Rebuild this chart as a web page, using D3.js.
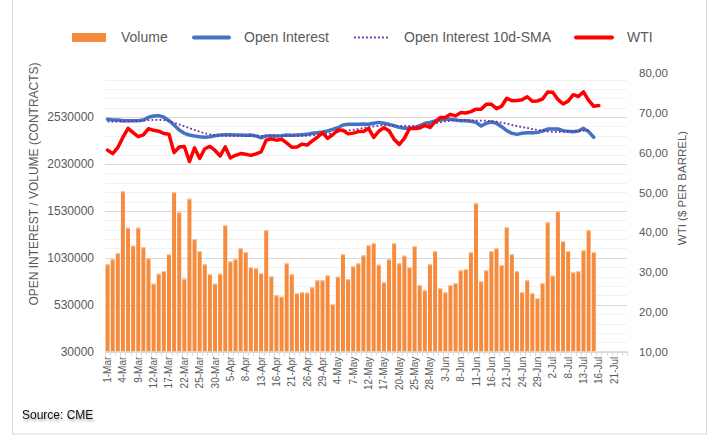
<!DOCTYPE html>
<html>
<head>
<meta charset="utf-8">
<script src="https://cdn.jsdelivr.net/npm/d3@7"></script>
<style>
  body { margin: 0; background: #fff; }
  svg { display: block; font-family: "Liberation Sans", Arial, sans-serif; }
</style>
</head>
<body>
<svg id="chart" width="722" height="448"></svg>
<script>
// trading days, 1-Mar to 23-Jul
var dates = [
  "1-Mar","2-Mar","3-Mar","4-Mar","5-Mar","8-Mar","9-Mar","10-Mar","11-Mar","12-Mar",
  "15-Mar","16-Mar","17-Mar","18-Mar","19-Mar","22-Mar","23-Mar","24-Mar","25-Mar","26-Mar",
  "29-Mar","30-Mar","31-Mar","1-Apr","5-Apr","6-Apr","7-Apr","8-Apr","9-Apr","12-Apr",
  "13-Apr","14-Apr","15-Apr","16-Apr","19-Apr","20-Apr","21-Apr","22-Apr","23-Apr","26-Apr",
  "27-Apr","28-Apr","29-Apr","30-Apr","3-May","4-May","5-May","6-May","7-May","10-May",
  "11-May","12-May","13-May","14-May","17-May","18-May","19-May","20-May","21-May","24-May",
  "25-May","26-May","27-May","28-May","1-Jun","2-Jun","3-Jun","4-Jun","7-Jun","8-Jun",
  "9-Jun","10-Jun","11-Jun","14-Jun","15-Jun","16-Jun","17-Jun","18-Jun","21-Jun","22-Jun",
  "23-Jun","24-Jun","25-Jun","28-Jun","29-Jun","30-Jun","1-Jul","2-Jul","6-Jul","7-Jul",
  "8-Jul","9-Jul","12-Jul","13-Jul","14-Jul","15-Jul","16-Jul","19-Jul","20-Jul","21-Jul",
  "22-Jul","23-Jul"
];

// volume (contracts)
var volume = [
  961000,1015000,1079000,1739000,1351000,1160000,1351000,1142000,1025000,755000,
  861000,890000,1068000,1729000,1515000,808000,1660000,1228000,1100000,961000,
  855000,755000,861000,1377000,993000,1015000,1132000,1092000,929000,919000,
  865000,1324000,833000,631000,616000,972000,855000,652000,663000,659000,
  716000,791000,791000,844000,535000,829000,1068000,802000,940000,972000,
  1057000,1164000,1185000,957000,770000,1015000,1185000,972000,1053000,929000,
  1153000,738000,684000,961000,1100000,706000,663000,738000,759000,897000,
  908000,1089000,1611000,780000,897000,1100000,1132000,951000,1356000,1068000,
  887000,663000,791000,652000,599000,759000,1409000,840000,1526000,1206000,
  1103000,876000,887000,1110000,1324000,1089000
];

// open interest (contracts)
var openInterest = [
  2506000,2499000,2499000,2492000,2492000,2492000,2492000,2499000,2528000,2542000,
  2545000,2528000,2492000,2446000,2392000,2357000,2339000,2329000,2321000,2315000,
  2321000,2332000,2339000,2342000,2342000,2339000,2339000,2336000,2339000,2329000,
  2310000,2329000,2332000,2329000,2332000,2339000,2336000,2339000,2342000,2346000,
  2357000,2364000,2371000,2382000,2400000,2417000,2446000,2453000,2453000,2453000,
  2457000,2453000,2464000,2474000,2464000,2453000,2438000,2421000,2410000,2410000,
  2417000,2438000,2464000,2474000,2488000,2499000,2506000,2506000,2499000,2492000,
  2492000,2485000,2474000,2435000,2464000,2478000,2464000,2428000,2386000,2357000,
  2346000,2357000,2364000,2364000,2367000,2382000,2403000,2403000,2403000,2386000,
  2378000,2375000,2382000,2410000,2375000,2315000
];

// open interest 10d-SMA
var oiSma = [
  2481000,2482000,2483000,2483000,2485000,2487000,2490000,2493000,2497000,2500000,
  2500000,2498000,2485000,2470000,2452000,2432000,2412000,2393000,2375000,2358000,
  2345000,2337000,2332000,2330000,2330000,2330000,2330000,2330000,2330000,2330000,
  2330000,2330000,2330000,2330000,2330000,2330000,2330000,2330000,2330000,2332000,
  2335000,2340000,2346000,2352000,2360000,2370000,2380000,2388000,2395000,2403000,
  2414000,2424000,2431000,2438000,2446000,2442000,2438000,2435000,2435000,2435000,
  2435000,2438000,2449000,2457000,2464000,2474000,2485000,2492000,2496000,2499000,
  2499000,2496000,2492000,2492000,2492000,2488000,2481000,2470000,2460000,2446000,
  2435000,2424000,2414000,2403000,2392000,2385000,2378000,2374000,2374000,2374000,
  2378000,2378000,2382000,2385000,2392000
];

// WTI ($ per barrel)
var wti = [
  60.64,59.75,61.28,63.83,66.09,65.05,64.01,64.44,66.02,65.61,
  65.39,64.80,64.60,60.00,61.42,61.55,57.76,61.18,58.56,60.97,
  61.56,60.55,59.16,61.45,58.65,59.33,59.77,59.60,59.32,59.70,
  60.18,63.15,63.46,63.13,63.38,62.44,61.35,61.43,62.14,61.91,
  62.94,63.86,65.01,63.58,64.49,65.69,65.63,64.71,64.90,65.28,
  65.28,66.08,63.82,65.37,66.27,65.49,63.36,62.05,63.58,66.05,
  66.07,66.21,66.85,66.32,67.72,68.83,68.81,69.62,69.23,70.05,
  69.96,70.29,70.91,70.88,72.12,72.15,71.04,71.64,73.66,73.06,
  73.08,73.30,74.05,72.91,72.98,73.47,75.23,75.16,73.37,72.20,
  72.94,74.56,74.10,75.25,73.13,71.65,71.81
];

var volTicks = [30000, 530000, 1030000, 1530000, 2030000, 2530000];
var wtiTicks = [10, 20, 30, 40, 50, 60, 70, 80];

// plot box (window.top is read-only, so no "top" here)
var plotL = 105, plotR = 627, plotT = 73, plotB = 351.7;
var textGrey = "#595959";

var svg = d3.select("#chart");

// outer frame
svg.append("rect")
   .attr("x", 12.5).attr("y", -5)
   .attr("width", 694).attr("height", 439)
   .attr("fill", "none").attr("stroke", "#d9d9d9");

var x = d3.scaleBand().domain(dates).range([plotL, plotR])
          .paddingInner(0.22).paddingOuter(0.11);
var yL = d3.scaleLinear().domain([30000, 3000000]).range([plotB, plotT]);
var yR = d3.scaleLinear().domain([10, 80]).range([plotB, plotT]);

var cx = function(i){ return x(dates[i]) + x.bandwidth() / 2; };

// gridlines, minor every 100000, major every 500000
var grid = d3.range(30000, 3000000, 100000);
svg.append("g").selectAll("line")
   .data(grid)
   .enter()
   .append("line")
   .attr("x1", plotL).attr("x2", plotR)
   .attr("y1", function(d){ return Math.round(yL(d)) + 0.5; })
   .attr("y2", function(d){ return Math.round(yL(d)) + 0.5; })
   .attr("stroke", function(d, i){ return i % 5 == 0 ? "#d9d9d9" : "#f2f2f2"; })
   .attr("stroke-width", 1);

// volume bars
svg.append("g").selectAll("rect")
   .data(volume)
   .enter()
   .append("rect")
   .attr("x", function(d, i){ return x(dates[i]); })
   .attr("width", x.bandwidth())
   .attr("y", function(d){ return yL(d); })
   .attr("height", function(d){ return plotB - yL(d); })
   .attr("fill", "#f68b3d");

// light cap on top of every bar
svg.append("g").selectAll("rect")
   .data(volume)
   .enter()
   .append("rect")
   .attr("x", function(d, i){ return x(dates[i]); })
   .attr("width", x.bandwidth())
   .attr("y", function(d){ return yL(d); })
   .attr("height", 1)
   .attr("fill", "#fac9a0");

// category axis line and tick marks
svg.append("line")
   .attr("x1", plotL).attr("x2", plotR)
   .attr("y1", plotB).attr("y2", plotB)
   .attr("stroke", "#d9d9d9");

var bounds = dates.map(function(d){ return x(d) - (x.step() - x.bandwidth()) / 2; });
bounds.push(plotR);
svg.append("g").selectAll("line")
   .data(bounds)
   .enter()
   .append("line")
   .attr("x1", function(d){ return Math.round(d) + 0.5; })
   .attr("x2", function(d){ return Math.round(d) + 0.5; })
   .attr("y1", plotB).attr("y2", plotB + 4)
   .attr("stroke", "#d9d9d9");

var xAxis = d3.axisBottom(x)
              .tickValues(dates.filter(function(d, i){ return i % 3 == 0; }))
              .tickSize(0);
var gx = svg.append("g")
            .attr("transform", "translate(0," + plotB + ")")
            .call(xAxis);
gx.select(".domain").remove();
gx.selectAll("text")
  .attr("transform", "rotate(-90)")
  .attr("x", -5).attr("y", 0).attr("dy", "0.35em")
  .attr("text-anchor", "end")
  .attr("fill", textGrey)
  .style("font-size", "10px")
  .style("font-family", "Liberation Sans, Arial, sans-serif");

// left axis
var gl = svg.append("g")
            .attr("transform", "translate(" + plotL + ",0)")
            .call(d3.axisLeft(yL).tickValues(volTicks).tickSize(0).tickPadding(11)
                    .tickFormat(d3.format("d")));
gl.select(".domain").remove();
gl.selectAll("text").attr("fill", textGrey)
  .style("font-size", "12px").style("font-family", "Liberation Sans, Arial, sans-serif");

// right axis
var gr = svg.append("g")
            .attr("transform", "translate(" + plotR + ",0)")
            .call(d3.axisRight(yR).tickValues(wtiTicks).tickSize(0).tickPadding(12)
                    .tickFormat(function(d){ return d3.format(".2f")(d).replace(".", ","); }));
gr.select(".domain").remove();
gr.selectAll("text").attr("fill", textGrey)
  .style("font-size", "11.5px").style("font-family", "Liberation Sans, Arial, sans-serif");

// axis titles
svg.append("text")
   .attr("transform", "translate(38,184) rotate(-90)")
   .attr("text-anchor", "middle")
   .attr("fill", textGrey)
   .style("font-size", "12px")
   .text("OPEN INTEREST / VOLUME (CONTRACTS)");

svg.append("text")
   .attr("transform", "translate(686,188) rotate(-90)")
   .attr("text-anchor", "middle")
   .attr("fill", textGrey)
   .style("font-size", "11.5px")
   .text("WTI ($ PER BARREL)");

// lines
var lineL = d3.line()
              .x(function(d, i){ return cx(i); })
              .y(function(d){ return yL(d); });
var lineR = d3.line()
              .x(function(d, i){ return cx(i); })
              .y(function(d){ return yR(d); });

svg.append("path")
   .attr("d", lineL(openInterest))
   .attr("fill", "none").attr("stroke", "#4472c4")
   .attr("stroke-width", 3.5).attr("stroke-linejoin", "round").attr("stroke-linecap", "round");

svg.append("path")
   .attr("d", lineL(oiSma))
   .attr("fill", "none").attr("stroke", "#7030a0")
   .attr("stroke-width", 1.8).attr("stroke-dasharray", "1.8,2.2");

svg.append("path")
   .attr("d", lineR(wti))
   .attr("fill", "none").attr("stroke", "#ff0000")
   .attr("stroke-width", 3.5).attr("stroke-linejoin", "round").attr("stroke-linecap", "round");

// legend
var lg = svg.append("g").style("font-size", "14px").attr("fill", textGrey);
lg.append("rect").attr("x", 72).attr("y", 33).attr("width", 34).attr("height", 9).attr("fill", "#f68b3d");
lg.append("text").attr("x", 121).attr("y", 42).text("Volume");
lg.append("line").attr("x1", 194).attr("x2", 229).attr("y1", 37.5).attr("y2", 37.5)
  .attr("stroke", "#4472c4").attr("stroke-width", 4).attr("stroke-linecap", "round");
lg.append("text").attr("x", 244).attr("y", 42).text("Open Interest");
lg.append("line").attr("x1", 354).attr("x2", 390).attr("y1", 37.5).attr("y2", 37.5)
  .attr("stroke", "#7030a0").attr("stroke-width", 1.8).attr("stroke-dasharray", "1.8,2.2");
lg.append("text").attr("x", 404).attr("y", 42).text("Open Interest 10d-SMA");
lg.append("line").attr("x1", 576).attr("x2", 612).attr("y1", 37.5).attr("y2", 37.5)
  .attr("stroke", "#ff0000").attr("stroke-width", 4).attr("stroke-linecap", "round");
lg.append("text").attr("x", 627).attr("y", 42).text("WTI");

// source note
var defs = svg.append("defs");
var f = defs.append("filter").attr("id", "shadow").attr("x", "-10%").attr("y", "-30%")
            .attr("width", "130%").attr("height", "180%");
f.append("feDropShadow").attr("dx", 1).attr("dy", 2).attr("stdDeviation", 1.2)
 .attr("flood-color", "#000").attr("flood-opacity", 0.35);
svg.append("text")
   .attr("x", 22).attr("y", 419)
   .attr("fill", "#111")
   .attr("filter", "url(#shadow)")
   .style("font-size", "12px")
   .text("Source: CME");
</script>
</body>
</html>
